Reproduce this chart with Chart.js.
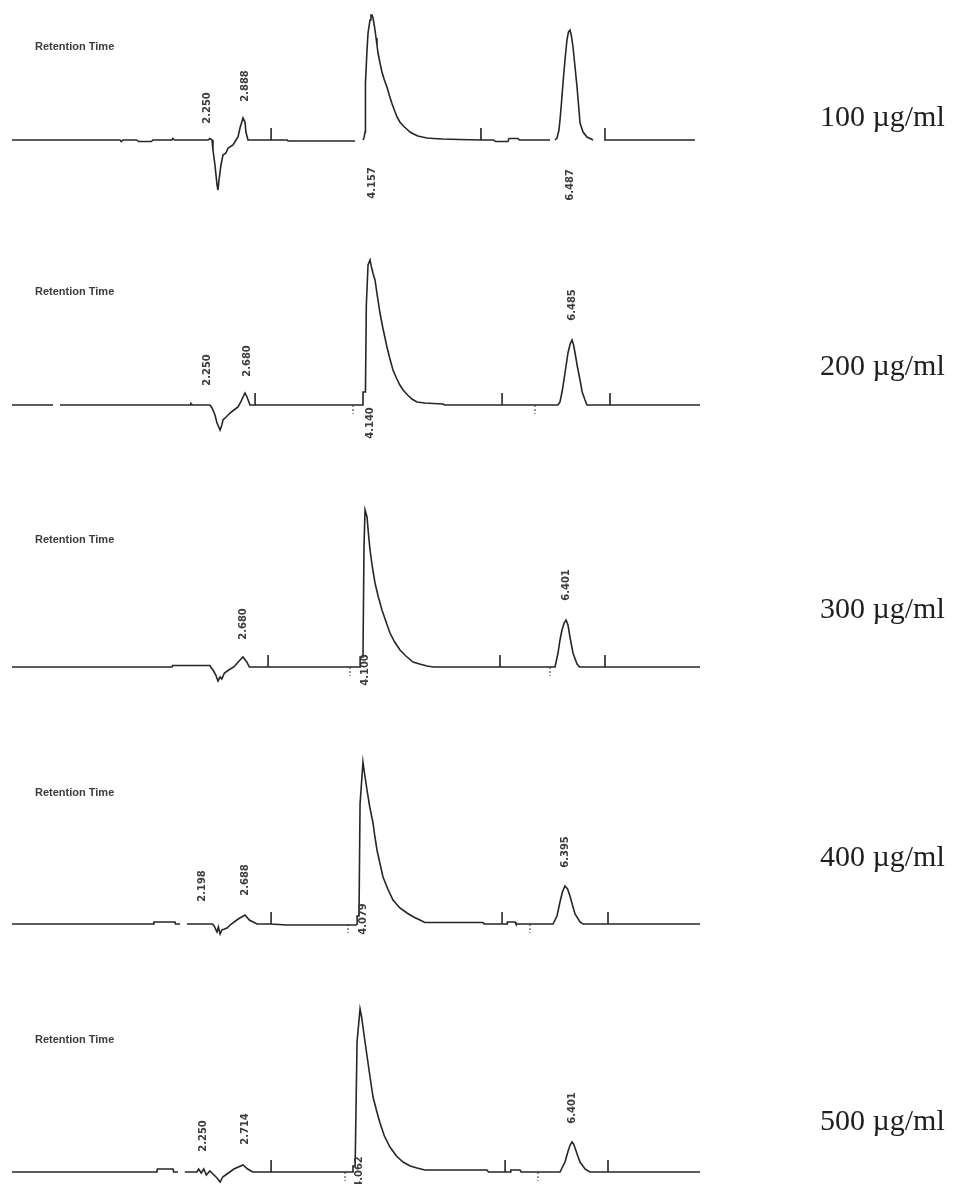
<!DOCTYPE html>
<html>
<head>
<meta charset="utf-8">
<script src="https://cdn.jsdelivr.net/npm/chart.js@4.4.1/dist/chart.umd.min.js"></script>
<style>
  html, body { margin: 0; padding: 0; background: #fff; width: 955px; height: 1184px; overflow: hidden; position: relative; }
  canvas { position: absolute; left: 0; }
</style>
</head>
<body>
<canvas id="trace0"></canvas>
<canvas id="trace1"></canvas>
<canvas id="trace2"></canvas>
<canvas id="trace3"></canvas>
<canvas id="trace4"></canvas>
<script>
// Concentration of each injection (one chromatogram each)
const concentrations = ['100 µg/ml', '200 µg/ml', '300 µg/ml', '400 µg/ml', '500 µg/ml'];

// Chromatogram 1 - 100 µg/ml (time in min, signal; null = gap in the printout)
const time100 = [0, 1.256, 1.27, 1.29, 1.45, 1.47, 1.62, 1.64, 1.86, 1.87, 1.89, 2.28, 2.30, 2.326,
  2.337, 2.36, 2.384, 2.395, 2.407, 2.43, 2.453, 2.488, 2.512, 2.570, 2.605, 2.628, 2.651, 2.686, 2.709, 2.72, 2.744,
  3.012, 3.012, 3.013, 3.2, 3.21, 3.988, 3.99, 4.081, 4.093, 4.105, 4.11, 4.128, 4.14, 4.163, 4.174, 4.186, 4.198,
  4.21, 4.221, 4.233, 4.244, 4.256, 4.279, 4.302, 4.33, 4.36, 4.39, 4.42, 4.45, 4.477, 4.51, 4.55, 4.59, 4.628,
  4.67, 4.72, 4.77, 4.826, 4.9, 5.0, 5.2, 5.453, 5.453, 5.454, 5.6, 5.62, 5.767,
  5.779, 5.884, 5.9, 6.256, 6.27, 6.314, 6.337, 6.36, 6.372, 6.39, 6.407, 6.43, 6.453, 6.47, 6.488, 6.505, 6.523,
  6.547, 6.570, 6.59, 6.605, 6.64, 6.686, 6.756, 6.77, 6.895, 6.895, 7.942];
const signal100 = [0, 0, -1.5, 0, 0, -1.5, -1.5, 0, 0, 1.5, 0, 0, 1.5, 0,
  -10, -25, -45, -50, -40, -25, -15, -13, -8, -5, 0, 3, 12, 22, 18, 8, 0,
  0, 12, 0, 0, -1, -1, null, 0, 2, 8, 57, 90, 107, 120, 125, 125, 122,
  116, 110, 102, 95, 87, 77, 68, 60, 53, 44, 36, 29, 23, 18, 14, 11, 8,
  6, 4, 3, 2, 1.5, 1, 0.5, 0, 12, 0, 0, -1.5, -1.5,
  1.5, 1.5, 0, 0, null, 0, 2, 10, 20, 38, 57, 80, 100, 108, 110, 104, 93,
  73, 53, 33, 17, 8, 3, 0, null, 12, 0, 0];
const markers100 = [];
const peakTimes100 = [2.267, 2.709, 4.186, 6.488];
const peakTexts100 = ['2.250', '2.888', '4.157', '6.487'];

// Chromatogram 2 - 200 µg/ml
const time200 = [0, 0.477, 0.48, 0.558, 2.07, 2.08, 2.10, 2.302, 2.326, 2.36, 2.384, 2.419, 2.44, 2.453, 2.49,
  2.535, 2.58, 2.628, 2.66, 2.686, 2.709, 2.733, 2.767, 2.826, 2.826, 2.827, 4.081, 4.082, 4.11, 4.12, 4.14, 4.163,
  4.18, 4.20, 4.221, 4.25, 4.279, 4.31, 4.335, 4.36, 4.395, 4.43, 4.47, 4.51, 4.547, 4.6, 4.65, 4.709, 4.8, 4.9,
  5.012, 5.03, 5.698, 5.698, 5.699, 6.349, 6.372, 6.40, 6.43, 6.465, 6.49, 6.512, 6.53,
  6.547, 6.575, 6.605, 6.63, 6.663, 6.686, 6.953, 6.953, 6.954, 8.035];
const signal200 = [0, 0, null, 0, 0, 1.5, 0, 0, -3, -10, -18, -25, -20, -15, -12,
  -8, -5, -2, 3, 8, 12, 8, 0, 0, 12, 0, 0, 13, 13, 100, 140, 145,
  138, 131, 125, 108, 92, 78, 68, 58, 46, 35, 27, 20, 15, 10, 6, 3, 2, 1.5,
  1, 0, 0, 12, 0, 0, 3, 15, 32, 52, 61, 65, 60,
  52, 38, 25, 13, 5, 0, 0, 12, 0, 0];
const markers200 = [3.965, 6.081];
const peakTimes200 = [2.267, 2.733, 4.163, 6.512];
const peakTexts200 = ['2.250', '2.680', '4.140', '6.485'];

// Chromatogram 3 - 300 µg/ml
const time300 = [0, 1.86, 1.87, 2.302, 2.31, 2.337, 2.37, 2.395, 2.42, 2.44, 2.47, 2.52, 2.58, 2.63, 2.686, 2.73,
  2.76, 2.977, 2.977, 2.978, 4.047, 4.048, 4.081, 4.093, 4.105, 4.128, 4.145, 4.163, 4.19, 4.221, 4.26, 4.302,
  4.35, 4.395, 4.45, 4.512, 4.58, 4.663, 4.74, 4.826, 4.9, 5.674, 5.674, 5.675, 6.314, 6.349, 6.37, 6.395, 6.42,
  6.442, 6.465, 6.488, 6.523, 6.570, 6.6, 6.895, 6.895, 6.896, 8.035];
const signal300 = [0, 0, 1.5, 1.5, 0, -3, -8, -14, -10, -12, -6, -3, 0, 5, 10, 5,
  0, 0, 12, 0, 0, 10, 10, 120, 157, 150, 133, 117, 100, 84, 70, 57,
  45, 34, 25, 17, 11, 5, 3, 1, 0, 0, 12, 0, 0, 14, 26, 37, 44,
  47, 42, 30, 14, 3, 0, 0, 12, 0, 0];
const markers300 = [3.93, 6.256];
const peakTimes300 = [2.686, 4.105, 6.45];
const peakTexts300 = ['2.680', '4.100', '6.401'];

// Chromatogram 4 - 400 µg/ml
const time400 = [0, 1.64, 1.65, 1.895, 1.90, 1.953, 1.96, 2.035, 2.33, 2.35, 2.384, 2.40, 2.42, 2.44, 2.5, 2.55,
  2.63, 2.709, 2.76, 2.849, 3.012, 3.012, 3.013, 3.2, 4.0, 4.012, 4.013, 4.035, 4.047, 4.081, 4.10, 4.128, 4.16,
  4.198, 4.22, 4.244, 4.28, 4.314, 4.37, 4.43, 4.51, 4.593, 4.67, 4.744, 4.8, 5.477, 5.49, 5.698, 5.698, 5.699,
  5.756, 5.76, 5.849, 5.86, 6.291, 6.337, 6.372, 6.40, 6.43, 6.46, 6.488, 6.52, 6.547, 6.605, 6.64,
  6.930, 6.930, 6.931, 8.0];
const signal400 = [0, 0, 2, 2, 0, 0, null, 0, 0, -2, -8, -3, -10, -6, -4, 0,
  5, 9, 4, 0, 0, 12, 0, -1, -1, 0, 8, 8, 120, 162, 150, 134, 117,
  101, 87, 74, 60, 47, 35, 24, 16, 11, 7, 4, 1.5, 1.5, 0, 0, 12, 0,
  0, 2, 2, 0, 0, 8, 22, 32, 38, 35, 28, 18, 10, 2, 0,
  0, 12, 0, 0];
const markers400 = [3.907, 6.023];
const peakTimes400 = [2.209, 2.709, 4.081, 6.43];
const peakTexts400 = ['2.198', '2.688', '4.079', '6.395'];

// Chromatogram 5 - 500 µg/ml
const time500 = [0, 1.686, 1.69, 1.872, 1.88, 1.93, 1.94, 2.01, 2.15, 2.17, 2.2, 2.23, 2.26, 2.30, 2.337, 2.384,
  2.42, 2.45, 2.5, 2.58, 2.686, 2.74, 2.8, 3.012, 3.012, 3.013, 3.96, 3.965, 3.99, 4.012, 4.047, 4.065, 4.081, 4.11,
  4.14, 4.17, 4.198, 4.24, 4.279, 4.33, 4.395, 4.47, 4.547, 4.63, 4.709, 4.8, 5.523, 5.54, 5.733, 5.733, 5.734,
  5.791, 5.80, 5.907, 5.92, 6.372, 6.43, 6.47, 6.49, 6.512, 6.53, 6.547, 6.575, 6.605, 6.663, 6.721,
  6.930, 6.930, 6.931, 8.0];
const signal500 = [0, 0, 3, 3, 0, 0, null, 0, 0, 3, -1, 3, -3, 1, -2, -6,
  -10, -5, -2, 3, 7, 3, 0, 0, 12, 0, 0, 6, 6, 130, 163, 155, 145, 127,
  109, 91, 75, 61, 49, 36, 25, 16, 10, 6, 4, 2, 2, 0, 0, 12, 0,
  0, 2, 2, 0, 0, 10, 22, 27, 30, 28, 24, 17, 10, 3, 0,
  0, 12, 0, 0];
const markers500 = [3.872, 6.116];
const peakTimes500 = [2.221, 2.709, 4.035, 6.512];
const peakTexts500 = ['2.250', '2.714', '4.062', '6.401'];

// Layout for each panel (pixel baseline on the page, label offsets in signal units)
const baselines = [140, 405, 667, 924, 1172];
const rtOffsets = [93, 113, 127, 131, 132];
const concOffsets = [22, 38, 57, 66, 50];
const peakOffsets = [
  [32, 54, -43, -45],
  [35, 44, -18, 100],
  [43, -3, 82],
  [38, 44, 5, 72],
  [36, 43, 0, 64]
];

const traces = [
  { time: time100, signal: signal100, markers: markers100, peakTimes: peakTimes100, peakTexts: peakTexts100 },
  { time: time200, signal: signal200, markers: markers200, peakTimes: peakTimes200, peakTexts: peakTexts200 },
  { time: time300, signal: signal300, markers: markers300, peakTimes: peakTimes300, peakTexts: peakTexts300 },
  { time: time400, signal: signal400, markers: markers400, peakTimes: peakTimes400, peakTexts: peakTexts400 },
  { time: time500, signal: signal500, markers: markers500, peakTimes: peakTimes500, peakTexts: peakTexts500 }
];

// Plugin: "Retention Time" caption, vertical peak labels and the concentration on the right
const annotate = {
  id: 'annotate',
  afterDatasetsDraw(chart, args, opts) {
    const ctx = chart.ctx;
    const xs = chart.scales.x, ys = chart.scales.y;
    const base = ys.getPixelForValue(0);
    ctx.save();
    ctx.fillStyle = '#3c3c3c';
    ctx.textBaseline = 'middle';
    ctx.font = 'bold 11px "Liberation Sans"';
    ctx.fillText('Retention Time', 35, base - opts.rtOffset);

    ctx.font = 'bold 10px "DejaVu Sans"';
    ctx.textAlign = 'center';
    opts.peakTimes.forEach((t, i) => {
      ctx.save();
      ctx.translate(xs.getPixelForValue(t), ys.getPixelForValue(opts.peakOffsets[i]));
      ctx.rotate(-Math.PI / 2);
      ctx.fillText(opts.peakTexts[i], 0, 0);
      ctx.restore();
    });

    ctx.fillStyle = '#1e1e1e';
    ctx.textAlign = 'left';
    ctx.font = '30px "Liberation Serif"';
    ctx.fillText(opts.conc, 820, base - opts.concOffset);
    ctx.restore();
  }
};

traces.forEach((tr, k) => {
  const canvas = document.getElementById('trace' + k);
  canvas.width = 955;
  canvas.height = 260;
  canvas.style.top = (baselines[k] - 200) + 'px';

  // small dotted marks under the baseline
  const markerPts = [];
  tr.markers.forEach(t => {
    markerPts.push({ x: t, y: 0 }, { x: t, y: -9 }, { x: t, y: null });
  });

  new Chart(canvas.getContext('2d'), {
    type: 'line',
    data: {
      datasets: [{
        data: tr.time.map((t, i) => ({ x: t, y: tr.signal[i] })),
        borderColor: '#262626',
        borderWidth: 1.6,
        pointRadius: 0,
        tension: 0,
        spanGaps: false
      }, {
        data: markerPts,
        borderColor: '#555',
        borderWidth: 1.2,
        borderDash: [2, 2],
        pointRadius: 0,
        spanGaps: false
      }]
    },
    options: {
      responsive: false,
      animation: false,
      layout: { padding: { left: 12, right: 255, top: 0, bottom: 0 } },
      scales: {
        x: { type: 'linear', min: 0, max: 8, display: false },
        y: { min: -60, max: 200, display: false }
      },
      plugins: {
        legend: { display: false },
        tooltip: { enabled: false },
        annotate: {
          rtOffset: rtOffsets[k],
          concOffset: concOffsets[k],
          conc: concentrations[k],
          peakTimes: tr.peakTimes,
          peakTexts: tr.peakTexts,
          peakOffsets: peakOffsets[k]
        }
      }
    },
    plugins: [annotate]
  });
});
</script>
</body>
</html>
